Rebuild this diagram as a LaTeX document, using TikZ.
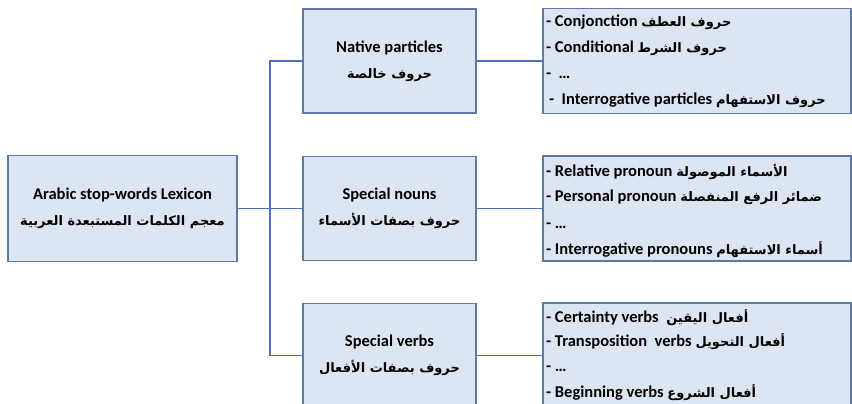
\documentclass[tikz,border=0pt]{standalone}
\usepackage{fontspec}
\setmainfont{Carlito}
\newfontfamily\arabicfont[Script=Arabic]{DejaVu Sans}
\TeXXeTstate=1
\definecolor{boxfill}{RGB}{220,230,242}
\definecolor{boxline}{RGB}{96,120,168}
\definecolor{wirecol}{RGB}{79,112,182}
% Arabic run, set right to left
\newcommand{\artext}[1]{{\arabicfont\bfseries\fontsize{13}{15}\selectfont\beginR #1\endR}}
\begin{document}
\begin{tikzpicture}[x=1pt,y=-1pt,
  box/.style={draw=boxline, line width=1.2pt, fill=boxfill, inner sep=0pt,
    align=center, font=\bfseries\fontsize{16.5}{26}\selectfont},
  item/.style={anchor=base west, inner sep=0pt, font=\bfseries\fontsize{16.5}{20}\selectfont},
  wire/.style={draw=wirecol, line width=1.2pt}]
\useasboundingbox (0,0) rectangle (852,404);

% root
\node[box, minimum width=229pt, minimum height=106pt] (root) at (122.5,208.5)
  {Arabic stop-words Lexicon\\\artext{معجم الكلمات المستبعدة العربية}};

% middle level
\node[box, minimum width=173pt, minimum height=104pt] (mid1) at (389.5,61)
  {Native particles\\\artext{حروف خالصة}};
\node[box, minimum width=173pt, minimum height=104pt] (mid2) at (389.5,208.5)
  {Special nouns\\\artext{حروف بصفات الأسماء}};
\node[box, minimum width=173pt, minimum height=104pt] (mid3) at (389.5,355.5)
  {Special verbs\\\artext{حروف بصفات الأفعال}};

% right level
\node[box, minimum width=308pt, minimum height=105pt] (leaf1) at (697,61) {};
\node[box, minimum width=308pt, minimum height=105pt] (leaf2) at (697,208.5) {};
\node[box, minimum width=308pt, minimum height=105pt] (leaf3) at (697,355.5) {};

% connectors
\coordinate (fork) at (270,208.5);
\draw[wire] (root.east) -- (fork);
\draw[wire] (mid1.west) -- (mid1.west -| fork) -- (mid3.west -| fork) -- (mid3.west);
\draw[wire] (fork) -- (mid2.west);
\draw[wire] (mid1.east) -- (leaf1.west);
\draw[wire] (mid2.east) -- (leaf2.west);
\draw[wire] (mid3.east) -- (leaf3.west);

% items of the first list
\node[item] (a1) at (546,27) {- Conjonction \artext{حروف العطف}};
\node[item] (a2) at (546,52.5) {- Conditional \artext{حروف الشرط}};
\node[item] (a3) at (546,79) {- \ …};
\node[item] (a4) at (549,105) {- \ Interrogative particles \artext{حروف الاستفهام}};

% items of the second list
\node[item] (b1) at (546,176) {- Relative pronoun \artext{الأسماء الموصولة}};
\node[item] (b2) at (546,201.5) {- Personal pronoun \artext{ضمائر الرفع المنفصلة}};
\node[item] (b3) at (546,228) {- …};
\node[item] (b4) at (546,254) {- Interrogative pronouns \artext{أسماء الاستفهام}};

% items of the third list
\node[item] (c1) at (546,322) {- Certainty verbs \ \artext{أفعال اليقين}};
\node[item] (c2) at (546,346) {- Transposition \ verbs \artext{أفعال التحويل}};
\node[item] (c3) at (546,371) {- …};
\node[item] (c4) at (546,397) {- Beginning verbs \artext{أفعال الشروع}};
\end{tikzpicture}
\end{document}
